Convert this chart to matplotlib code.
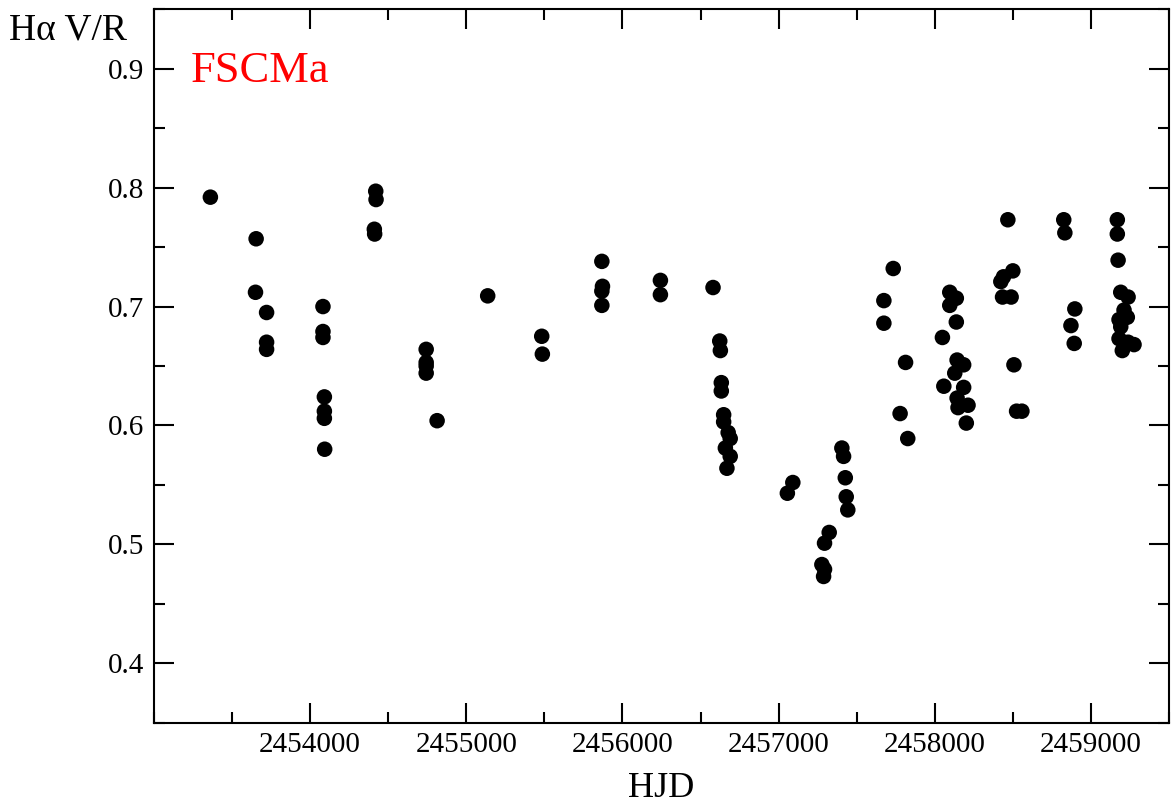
import matplotlib
matplotlib.use("Agg")
import matplotlib.pyplot as plt
from matplotlib.ticker import MultipleLocator

hjd = [2453361, 2453654, 2453650, 2453721, 2453721, 2453721,
       2454082, 2454082, 2454082, 2454091, 2454091, 2454091, 2454093,
       2454420, 2454422, 2454411, 2454413,
       2454743, 2454743, 2454743, 2454743, 2454813,
       2455137, 2455483, 2455487,
       2455868, 2455872, 2455868, 2455868,
       2456243, 2456243, 2456580,
       2456623, 2456627, 2456633, 2456633, 2456648, 2456648,
       2456677, 2456690, 2456659, 2456690, 2456669,
       2457056, 2457091,
       2457277, 2457294, 2457288, 2457294, 2457324,
       2457405, 2457416, 2457427, 2457433, 2457443,
       2457674, 2457674, 2457734, 2457778, 2457813, 2457827,
       2458049, 2458058, 2458096, 2458096, 2458138, 2458138,
       2458143, 2458128, 2458185, 2458185, 2458143, 2458213, 2458149, 2458202,
       2458440, 2458423, 2458434, 2458468, 2458500, 2458489,
       2458507, 2458524, 2458558,
       2458826, 2458833, 2458872, 2458897, 2458893,
       2459169, 2459169, 2459174, 2459191, 2459238, 2459212, 2459233,
       2459180, 2459191, 2459180, 2459238, 2459276, 2459201]

vr = [0.792, 0.757, 0.712, 0.695, 0.670, 0.664,
      0.700, 0.679, 0.674, 0.624, 0.612, 0.606, 0.580,
      0.797, 0.790, 0.765, 0.761,
      0.664, 0.653, 0.650, 0.644, 0.604,
      0.709, 0.675, 0.660,
      0.738, 0.717, 0.713, 0.701,
      0.722, 0.710, 0.716,
      0.671, 0.663, 0.636, 0.629, 0.609, 0.603,
      0.594, 0.589, 0.581, 0.574, 0.564,
      0.543, 0.552,
      0.483, 0.479, 0.473, 0.501, 0.510,
      0.581, 0.574, 0.556, 0.540, 0.529,
      0.705, 0.686, 0.732, 0.610, 0.653, 0.589,
      0.674, 0.633, 0.712, 0.701, 0.707, 0.687,
      0.655, 0.644, 0.651, 0.632, 0.623, 0.617, 0.615, 0.602,
      0.725, 0.721, 0.708, 0.773, 0.730, 0.708,
      0.651, 0.612, 0.612,
      0.773, 0.762, 0.684, 0.698, 0.669,
      0.773, 0.761, 0.739, 0.712, 0.708, 0.697, 0.691,
      0.689, 0.683, 0.673, 0.670, 0.668, 0.663]

xticks = [2454000, 2455000, 2456000, 2457000, 2458000, 2459000]
yticks = [0.4, 0.5, 0.6, 0.7, 0.8, 0.9]

plt.rcParams['font.family'] = ['Liberation Serif', 'DejaVu Serif']

fig = plt.figure(figsize=(11.71, 8.07), dpi=100)
ax = fig.add_axes([154/1171, 1-722.7/807, (1169-154)/1171, (722.7-9.3)/807])

ax.scatter(hjd, vr, s=125, color='black', edgecolors='none', zorder=3)

ax.set_xlim(2453000, 2459500)
ax.set_ylim(0.35, 0.95)
ax.set_xticks(xticks)
ax.set_xticklabels([str(t) for t in xticks])
ax.set_yticks(yticks)
ax.set_yticklabels([f"{t:.1f}" for t in yticks])
ax.xaxis.set_minor_locator(MultipleLocator(500))
ax.yaxis.set_minor_locator(MultipleLocator(0.05))
ax.tick_params(which='both', direction='in', top=True, right=True, width=1.5,
               labelsize=21, color='black')
ax.tick_params(which='major', length=14.4, pad=7)
ax.tick_params(which='minor', length=8)
for sp in ax.spines.values():
    sp.set_linewidth(1.5)

ax.set_xlabel('HJD', fontsize=26, labelpad=10)
fig.text(9/1171, 1-39/807, 'Hα V/R', fontsize=27, ha='left', va='baseline')
ax.text(191/1171, 1-81.7/807, 'FSCMa', transform=fig.transFigure, fontsize=32,
        color='red', ha='left', va='baseline')

fig.savefig('out.png', dpi=100)
